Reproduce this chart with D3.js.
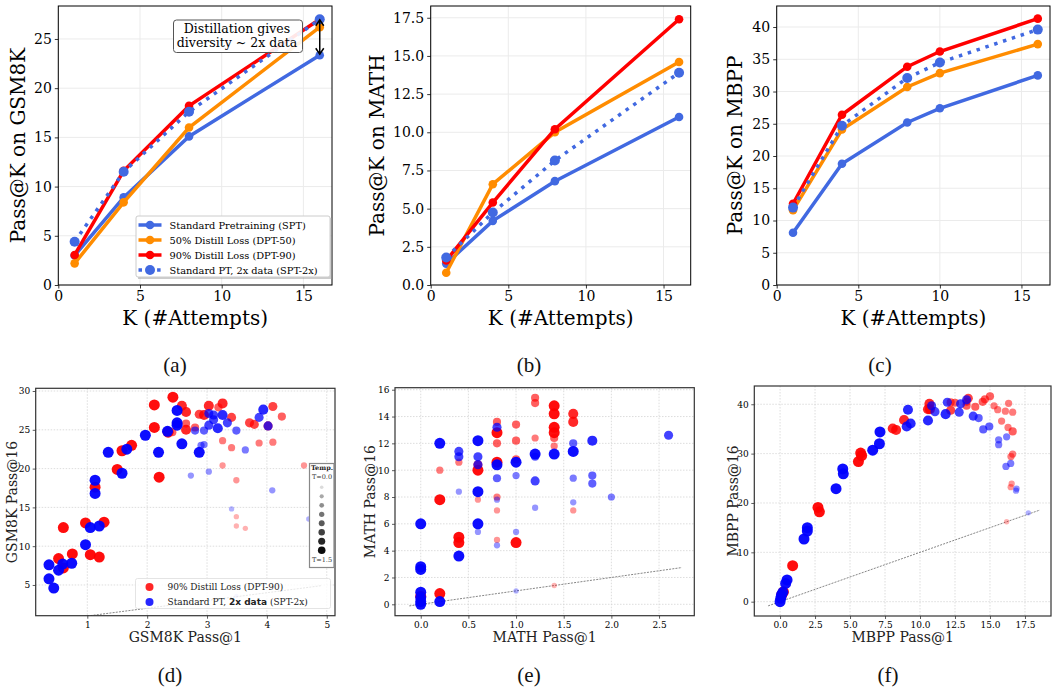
<!DOCTYPE html>
<html><head><meta charset="utf-8">
<script src="https://cdn.jsdelivr.net/npm/d3@7"></script>
<style>body{margin:0;background:#fff}svg{display:block}</style>
</head><body>
<svg id="c" width="1052" height="690"></svg>
<script>
// ---------- DATA ----------
const seriesNames = ["Standard Pretraining (SPT)", "50% Distill Loss (DPT-50)", "90% Distill Loss (DPT-90)", "Standard PT, 2x data (SPT-2x)"];
const kGsm = [1, 4, 8, 16];
const kMath = [1, 4, 8, 16];
const kMbpp = [1, 4, 8, 10, 16];
const gsmSPT = [3.0, 8.9, 15.1, 23.35];
const gsmDPT50 = [2.2, 8.4, 16.0, 26.2];
const gsmDPT90 = [3.05, 11.6, 18.2, 27.0];
const gsmSPT2x = [4.4, 11.5, 17.6, 27.0];
const mathSPT = [1.4, 4.2, 6.8, 11.0];
const mathDPT50 = [0.8, 6.6, 10.0, 14.6];
const mathDPT90 = [1.6, 5.4, 10.2, 17.4];
const mathSPT2x = [1.8, 4.75, 8.15, 13.9];
const mbppSPT = [8.1, 18.8, 25.2, 27.4, 32.5];
const mbppDPT50 = [11.6, 24.1, 30.7, 32.85, 37.35];
const mbppDPT90 = [12.6, 26.4, 33.85, 36.2, 41.3];
const mbppSPT2x = [12.0, 24.7, 32.1, 34.5, 39.6];

const tempLevels = [0, 1, 2, 3, 4, 5, 6, 7]; // index into T=0.0 ... T=1.5
const scatterNames = ["90% Distill Loss (DPT-90)", "Standard PT, 2x data (SPT-2x)"];

// [pass@1, pass@16, temperature index]
const gsmDPT90pts = [[2.43,29.2,7],[2.12,28.2,7],[2.58,28.1,6],[2.65,27.3,6],[3.03,28.1,6],[3.26,28.4,6],[3.19,27.9,4],[2.87,27.0,5],[2.95,26.9,6],[3.41,26.6,5],[4.10,28.0,5],[4.25,26.7,4],[2.12,25.3,7],[2.65,25.8,4],[2.65,25.0,6],[2.8,25.3,4],[2.42,24.7,4],[2.35,24.7,7],[3.71,25.9,5],[3.79,25.7,5],[4.02,25.5,5],[3.26,23.6,3],[3.41,22.7,3],[3.87,23.3,3],[4.10,23.4,3],[1.74,23.0,7],[1.58,22.3,7],[1.50,19.9,7],[2.2,18.9,7],[3.26,20.4,2],[4.62,20.4,2],[3.49,18.5,2],[1.13,17.6,7],[3.49,13.8,1],[3.49,12.6,1],[3.64,12.3,1],[0.97,13.0,7],[1.28,13.1,7],[0.6,12.4,7],[1.05,8.9,7],[1.2,8.6,7],[0.75,9.0,7],[0.52,8.4,7],[0.6,7.2,7]];
const gsmSPT2xpts = [[2.5,27.5,7],[2.5,25.9,7],[2.5,25.6,7],[2.34,24.8,7],[1.97,24.3,7],[2.58,23.2,7],[2.19,22.1,7],[1.35,22.1,7],[1.66,22.5,7],[2.87,22.1,7],[1.58,19.4,7],[1.13,18.5,7],[1.13,16.8,7],[1.05,12.4,7],[1.2,12.6,7],[0.97,10.2,7],[0.36,7.6,7],[0.74,7.8,7],[0.59,7.7,7],[0.52,6.9,7],[0.36,5.8,7],[0.44,4.6,7],[3.03,27.1,5],[3.11,26.9,5],[3.11,26.3,5],[3.03,25.6,5],[3.18,25.2,6],[3.26,26.9,6],[3.34,25.9,5],[2.80,24.9,4],[2.95,24.9,4],[3.49,24.9,4],[3.87,26.6,5],[3.94,27.6,6],[4.02,25.5,5],[2.9,23.0,3],[2.95,23.1,3],[3.64,22.4,3],[2.73,19.1,2],[3.03,19.6,2],[4.09,17.2,2],[3.41,14.8,1],[4.7,13.5,1],[3.49,3.6,0]];
const mathDPT90pts = [[1.2,15.4,4],[1.2,15.0,4],[1.4,14.8,7],[1.4,14.2,7],[1.6,14.2,6],[1.6,13.6,6],[0.8,13.6,4],[1.0,13.4,4],[1.4,13.2,7],[1.4,12.8,7],[0.8,12.8,7],[0.8,12.0,4],[1.0,12.2,4],[1.2,12.4,3],[1.4,12.4,4],[1.4,11.8,3],[0.2,10.0,3],[0.4,10.6,3],[0.6,10.0,7],[0.8,10.6,7],[1.0,10.8,4],[0.2,7.8,7],[0.6,7.8,2],[0.8,8.0,3],[0.8,7.0,2],[1.6,7.0,2],[0.4,5.0,7],[0.4,4.6,7],[0.8,4.8,2],[1.0,4.6,7],[0.2,0.8,7],[0.0,0.6,7],[1.4,1.4,1],[0.6,10.4,5]];
const mathSPT2xpts = [[0.8,13.2,5],[0.2,12.0,7],[0.6,12.2,7],[0.4,11.4,5],[0.4,11.0,5],[0.6,11.0,5],[0.6,10.4,5],[0.8,10.4,7],[1.0,10.6,7],[1.2,11.2,7],[1.2,11.0,4],[1.4,11.2,7],[1.6,11.4,7],[1.6,12.0,4],[1.8,12.2,6],[2.6,12.6,5],[0.8,9.4,4],[1.0,9.6,3],[1.2,9.2,5],[1.6,9.4,3],[1.8,9.6,4],[1.8,9.0,4],[2.0,8.0,3],[0.4,8.4,2],[0.6,8.4,7],[0.8,7.8,2],[1.2,7.2,2],[1.6,7.6,2],[0.0,6.0,7],[0.6,6.0,7],[0.6,5.4,2],[1.0,5.4,2],[0.8,4.4,2],[0.4,3.6,7],[0.0,2.8,7],[0.0,2.6,7],[0.0,0.9,7],[0.0,0.5,7],[0.0,0.2,7],[0.0,0.0,7],[0.2,0.2,7],[1.0,1.0,1]];
const mbppDPT90pts = [[0.12,1.4,7],[0.24,2.0,7],[0.9,7.3,7],[2.71,19.1,7],[2.81,18.2,7],[5.6,28.4,7],[5.76,30.1,7],[5.83,29.6,7],[8.05,35.1,6],[8.29,34.8,6],[8.86,36.8,6],[10.57,39.0,6],[10.67,40.1,6],[10.71,39.0,6],[12.19,40.4,4],[12.19,38.8,5],[12.5,40.3,4],[13.33,40.5,4],[13.45,41.2,5],[13.33,39.7,4],[13.95,39.5,4],[14.48,40.5,4],[14.64,41.0,4],[15.0,41.6,4],[15.29,39.7,3],[15.55,38.9,3],[15.83,36.6,3],[16.1,38.6,3],[16.33,40.2,3],[16.62,38.4,3],[16.29,35.3,3],[16.62,34.5,4],[16.62,29.9,3],[16.5,29.4,3],[16.55,23.9,2],[16.48,23.2,2],[16.19,16.2,1]];
const mbppSPT2xpts = [[0,0,7],[0.05,0.7,7],[0.1,1.4,7],[0.2,1.9,7],[0.4,3.7,7],[0.5,4.4,7],[1.71,12.7,7],[1.95,14.3,7],[1.95,15.0,7],[4.0,22.9,7],[4.48,26.9,7],[4.52,25.9,7],[6.62,30.7,7],[7.1,32.0,7],[7.14,34.4,7],[9.05,35.5,6],[9.33,36.1,6],[9.14,38.9,6],[10.57,36.7,6],[10.83,39.7,5],[11.07,38.5,5],[11.83,38.0,6],[11.95,40.4,5],[12.8,38.4,5],[12.9,40.1,5],[13.33,40.9,5],[13.8,37.6,5],[14.19,37.2,4],[14.52,34.9,4],[14.95,35.5,4],[15.62,32.8,3],[15.62,31.8,3],[16.19,33.4,3],[16.14,27.4,3],[16.48,28.0,3],[16.9,22.9,2],[16.86,22.5,2],[17.74,18.0,1]];

// ---------- DRAW ----------
const svg = d3.select("#c");
svg.append("rect").attr("width",1052).attr("height",690).attr("fill","#fff");
const SERIF = "DejaVu Serif";
const colors = ["#4169E1", "#FF8C00", "#FF0000", "#4169E1"];

function styleAxis(g, size) {
  g.select(".domain").remove();
  g.selectAll(".tick line").attr("stroke", "#000").attr("stroke-width", 0.8);
  g.selectAll(".tick text").attr("font-family", SERIF).attr("font-size", size).attr("fill", "#000");
}

function linePanel(o) {
  const x = d3.scaleLinear().domain([0, 16.75]).range([o.L, o.R]);
  const y = d3.scaleLinear().domain([0, o.yMax]).range([o.B, o.T]);
  const g = svg.append("g");
  const xt = [0, 5, 10, 15];
  g.selectAll(null).data(xt).join("line").attr("x1", d => x(d)).attr("x2", d => x(d)).attr("y1", o.T).attr("y2", o.B).attr("stroke", "#ebebeb").attr("stroke-width", 1);
  g.selectAll(null).data(o.yTicks).join("line").attr("y1", d => y(d)).attr("y2", d => y(d)).attr("x1", o.L).attr("x2", o.R).attr("stroke", "#ebebeb").attr("stroke-width", 1);
  const line = d3.line().x(d => x(d[0])).y(d => y(d[1]));
  o.series.forEach((vals, i) => {
    const pts = o.k.map((k, j) => [k, vals[j]]);
    const dotted = i === 3;
    g.append("path").datum(pts).attr("d", line).attr("fill", "none").attr("stroke", colors[i])
      .attr("stroke-width", 3.5).attr("stroke-dasharray", dotted ? "3.5,5.8" : null);
    g.selectAll(null).data(pts).join("circle").attr("cx", d => x(d[0])).attr("cy", d => y(d[1]))
      .attr("r", dotted ? 5 : 4.3).attr("fill", colors[i]);
  });
  g.append("rect").attr("x", o.L).attr("y", o.T).attr("width", o.R - o.L).attr("height", o.B - o.T)
    .attr("fill", "none").attr("stroke", "#000").attr("stroke-width", 1);
  const ax = g.append("g").attr("transform", `translate(0,${o.B})`).call(d3.axisBottom(x).tickValues(xt).tickSize(3.5).tickPadding(3).tickFormat(d3.format("d")));
  styleAxis(ax, 14);
  const ay = g.append("g").attr("transform", `translate(${o.L},0)`).call(d3.axisLeft(y).tickValues(o.yTicks).tickSize(3.5).tickPadding(3).tickFormat(d3.format(o.yFmt)));
  styleAxis(ay, 14);
  g.append("text").attr("x", (o.L + o.R) / 2).attr("y", 325).attr("text-anchor", "middle")
    .attr("font-family", SERIF).attr("font-size", 20).text("K (#Attempts)");
  g.append("text").attr("transform", `translate(${o.yl},${(o.T + o.B) / 2}) rotate(-90)`).attr("text-anchor", "middle")
    .attr("dominant-baseline", "central").attr("font-family", SERIF).attr("font-size", 20).text(o.ylabel);
  return {x, y, g};
}

const pA = linePanel({L: 58.3, R: 332, T: 6, B: 285, yMax: 28.35, yTicks: [0,5,10,15,20,25], yFmt: "d",
  k: kGsm, series: [gsmSPT, gsmDPT50, gsmDPT90, gsmSPT2x], ylabel: "Pass@K on GSM8K", yl: 18});
linePanel({L: 430.7, R: 690.7, T: 6, B: 285, yMax: 18.27, yTicks: [0,2.5,5,7.5,10,12.5,15,17.5], yFmt: ".1f",
  k: kMath, series: [mathSPT, mathDPT50, mathDPT90, mathSPT2x], ylabel: "Pass@K on MATH", yl: 377});
linePanel({L: 776.7, R: 1050, T: 6, B: 285, yMax: 43.26, yTicks: [0,5,10,15,20,25,30,35,40], yFmt: "d",
  k: kMbpp, series: [mbppSPT, mbppDPT50, mbppDPT90, mbppSPT2x], ylabel: "Pass@K on MBPP", yl: 735});

// legend in (a)
{
  const g = pA.g;
  g.append("rect").attr("x", 138).attr("y", 218).attr("width", 194).attr("height", 61).attr("fill", "#999").attr("opacity", 0.5);
  g.append("rect").attr("x", 136).attr("y", 216).attr("width", 194).attr("height", 61).attr("rx", 2)
    .attr("fill", "#fff").attr("stroke", "#ccc").attr("stroke-width", 1);
  seriesNames.forEach((n, i) => {
    const yy = 225 + i * 15;
    g.append("line").attr("x1", 138.5).attr("x2", 161.5).attr("y1", yy).attr("y2", yy).attr("stroke", colors[i])
      .attr("stroke-width", 3.5).attr("stroke-dasharray", i === 3 ? "3.5,5.8" : null);
    g.append("circle").attr("cx", 150).attr("cy", yy).attr("r", i === 3 ? 5 : 4.3).attr("fill", colors[i]);
    g.append("text").attr("x", 169.5).attr("y", yy).attr("dominant-baseline", "central")
      .attr("font-family", SERIF).attr("font-size", 9.8).text(n);
  });
  // annotation
  g.append("rect").attr("x", 173.5).attr("y", 20).attr("width", 129).attr("height", 32.5).attr("rx", 3)
    .attr("fill", "#fff").attr("fill-opacity", 0.9).attr("stroke", "#555").attr("stroke-width", 1);
  g.append("text").attr("x", 237).attr("y", 33).attr("text-anchor", "middle").attr("font-family", SERIF).attr("font-size", 12.5).text("Distillation gives");
  g.append("text").attr("x", 237).attr("y", 47).attr("text-anchor", "middle").attr("font-family", SERIF).attr("font-size", 12.5).text("diversity ~ 2x data");
  const ax = pA.x(16), ya = pA.y(26.95), yb = pA.y(23.45);
  g.append("line").attr("x1", ax).attr("x2", ax).attr("y1", ya).attr("y2", yb).attr("stroke", "#000").attr("stroke-width", 1.5);
  g.append("path").attr("d", `M${ax-4},${ya+6}L${ax},${ya}L${ax+4},${ya+6}M${ax-4},${yb-6}L${ax},${yb}L${ax+4},${yb-6}`)
    .attr("fill", "none").attr("stroke", "#000").attr("stroke-width", 1.5);
}

// ---------- scatter panels ----------
const rScale = d3.scaleLinear().domain([0, 7]).range([2.2, 5.5]);
const aScale = d3.scaleLinear().domain([0, 7]).range([0.2, 0.95]);

function scatterPanel(o) {
  const x = d3.scaleLinear().domain(o.xDom).range([o.L, o.R]);
  const y = d3.scaleLinear().domain(o.yDom).range([o.B, o.T]);
  const g = svg.append("g");
  const clipId = "clip" + o.id;
  g.append("clipPath").attr("id", clipId).append("rect").attr("x", o.L).attr("y", o.T).attr("width", o.R - o.L).attr("height", o.B - o.T);
  g.selectAll(null).data(o.xTicks).join("line").attr("x1", d => x(d)).attr("x2", d => x(d)).attr("y1", o.T).attr("y2", o.B)
    .attr("stroke", "#d4d4d4").attr("stroke-width", 0.8).attr("stroke-dasharray", "1.5,1.5");
  g.selectAll(null).data(o.yTicks).join("line").attr("y1", d => y(d)).attr("y2", d => y(d)).attr("x1", o.L).attr("x2", o.R)
    .attr("stroke", "#d4d4d4").attr("stroke-width", 0.8).attr("stroke-dasharray", "1.5,1.5");
  const cg = g.append("g").attr("clip-path", `url(#${clipId})`);
  cg.append("line").attr("x1", x(o.diag[0])).attr("y1", y(o.diag[0])).attr("x2", x(o.diag[1])).attr("y2", y(o.diag[1]))
    .attr("stroke", "#777").attr("stroke-width", 0.9).attr("stroke-dasharray", "2,1.2");
  [[o.red, "#ff0000"], [o.blue, "#0000ff"]].forEach(([pts, c]) => {
    cg.selectAll(null).data(pts).join("circle").attr("cx", d => x(d[0])).attr("cy", d => y(d[1]))
      .attr("r", d => rScale(d[2])).attr("fill", c).attr("fill-opacity", d => aScale(d[2]));
  });
  g.append("rect").attr("x", o.L).attr("y", o.T).attr("width", o.R - o.L).attr("height", o.B - o.T)
    .attr("fill", "none").attr("stroke", "#333").attr("stroke-width", 1.2);
  const ax = g.append("g").attr("transform", `translate(0,${o.B})`).call(d3.axisBottom(x).tickValues(o.xTicks).tickSize(3).tickPadding(2.5).tickFormat(d3.format(o.xFmt)));
  styleAxis(ax, 9); ax.selectAll(".tick line").attr("stroke", "#333");
  const ay = g.append("g").attr("transform", `translate(${o.L},0)`).call(d3.axisLeft(y).tickValues(o.yTicks).tickSize(3).tickPadding(2.5).tickFormat(d3.format("d")));
  styleAxis(ay, 9); ay.selectAll(".tick line").attr("stroke", "#333");
  g.append("text").attr("x", (o.L + o.R) / 2).attr("y", 641.5).attr("text-anchor", "middle")
    .attr("font-family", SERIF).attr("font-size", 14).attr("fill", "#222").text(o.xlabel);
  g.append("text").attr("transform", `translate(${o.yl},${(o.T + o.B) / 2}) rotate(-90)`).attr("text-anchor", "middle")
    .attr("dominant-baseline", "central").attr("font-family", SERIF).attr("font-size", 14).attr("fill", "#222").text(o.ylabel);
  return {x, y, g};
}

const pD = scatterPanel({id: "d", L: 35.7, R: 335, T: 388.3, B: 615.7, xDom: [0.138, 5.138], yDom: [1.04, 30.35],
  xTicks: [1,2,3,4,5], yTicks: [5,10,15,20,25,30], xFmt: "d", diag: [0.15, 4.92],
  red: gsmDPT90pts, blue: gsmSPT2xpts, xlabel: "GSM8K Pass@1", ylabel: "GSM8K Pass@16", yl: 12});
scatterPanel({id: "e", L: 395, R: 694.3, T: 387.7, B: 615.7, xDom: [-0.27, 2.87], yDom: [-0.85, 16.15],
  xTicks: [0,0.5,1,1.5,2,2.5], yTicks: [0,2,4,6,8,10,12,14,16], xFmt: ".1f", diag: [-0.12, 2.74],
  red: mathDPT90pts, blue: mathSPT2xpts, xlabel: "MATH Pass@1", ylabel: "MATH Pass@16", yl: 370});
scatterPanel({id: "f", L: 754.3, R: 1051, T: 386, B: 616, xDom: [-1.84, 19.36], yDom: [-2.9, 43.7],
  xTicks: [0,2.5,5,7.5,10,12.5,15,17.5], yTicks: [0,10,20,30,40], xFmt: ".1f", diag: [-0.85, 18.57],
  red: mbppDPT90pts, blue: mbppSPT2xpts, xlabel: "MBPP Pass@1", ylabel: "MBPP Pass@16", yl: 733});

// legend (d)
{
  const g = pD.g;
  g.append("rect").attr("x", 135.5).attr("y", 578.5).attr("width", 195).attr("height", 30).attr("rx", 2)
    .attr("fill", "#fff").attr("fill-opacity", 0.8).attr("stroke", "#ddd").attr("stroke-width", 0.8);
  const cols = ["#ff0000", "#0000ff"];
  [0, 1].forEach(i => {
    const yy = 587 + i * 15;
    g.append("circle").attr("cx", 149.5).attr("cy", yy).attr("r", 4).attr("fill", cols[i]).attr("fill-opacity", 0.85);
    const t = g.append("text").attr("x", 167.5).attr("y", yy).attr("dominant-baseline", "central")
      .attr("font-family", SERIF).attr("font-size", 9).attr("fill", "#222");
    if (i === 0) t.text(scatterNames[0]);
    else {
      t.append("tspan").text("Standard PT, ");
      t.append("tspan").attr("font-family", "DejaVu Sans").attr("font-weight", "bold").text("2x data");
      t.append("tspan").text(" (SPT-2x)");
    }
  });
  // temperature legend
  g.append("rect").attr("x", 309.5).attr("y", 463.5).attr("width", 24.5).attr("height", 104).attr("fill", "#fff")
    .attr("stroke", "#888").attr("stroke-width", 1.2);
  g.append("text").attr("x", 322).attr("y", 470).attr("text-anchor", "middle").attr("font-family", SERIF)
    .attr("font-weight", "bold").attr("font-size", 6.5).attr("fill", "#222").text("Temp.");
  g.append("text").attr("x", 322).attr("y", 478.5).attr("text-anchor", "middle").attr("font-family", SERIF)
    .attr("font-size", 6.5).attr("fill", "#333").text("T=0.0");
  const ly = d3.scaleLinear().domain([0, 7]).range([487.3, 550.3]);
  const lr = d3.scaleLinear().domain([0, 7]).range([1.8, 3.8]);
  g.selectAll(null).data(tempLevels).join("circle").attr("cx", 321.7).attr("cy", d => ly(d)).attr("r", d => lr(d))
    .attr("fill", "#000").attr("fill-opacity", d => aScale(d) * 0.95 + 0.05 - (d === 0 ? 0.1 : 0));
  g.append("text").attr("x", 322).attr("y", 562).attr("text-anchor", "middle").attr("font-family", SERIF)
    .attr("font-size", 6.5).attr("fill", "#333").text("T=1.5");
}

// captions
const captions = [["(a)", 175, 372], ["(b)", 529, 372], ["(c)", 880, 372], ["(d)", 170, 682], ["(e)", 529, 682], ["(f)", 888, 682]];
svg.selectAll(null).data(captions).join("text").attr("x", d => d[1]).attr("y", d => d[2]).attr("text-anchor", "middle")
  .attr("font-family", "Liberation Serif").attr("font-size", 21).attr("fill", "#111").text(d => d[0]);
</script>
</body></html>
